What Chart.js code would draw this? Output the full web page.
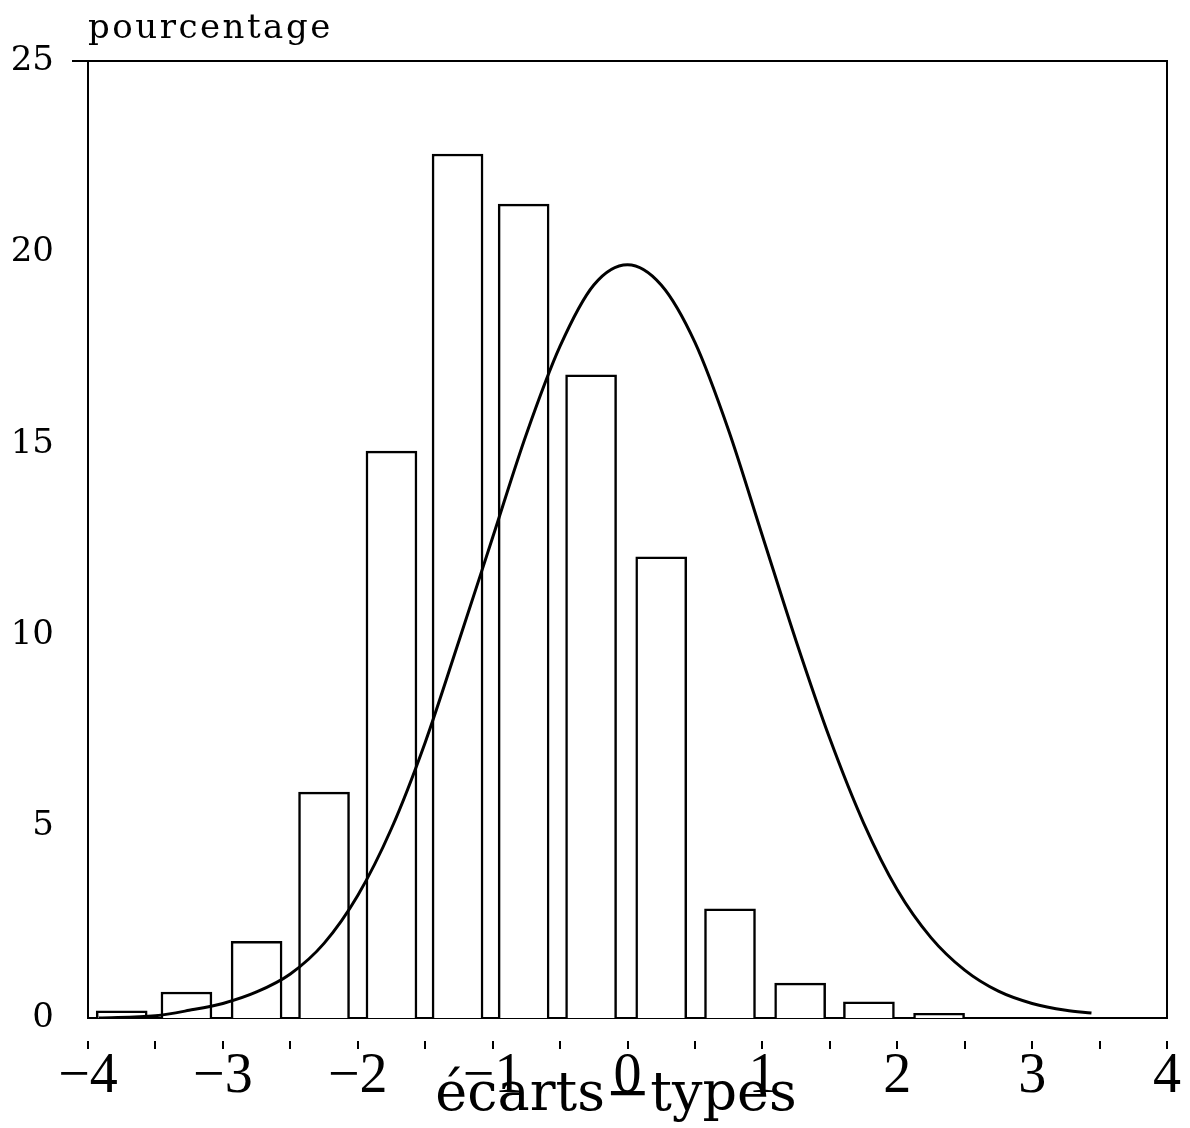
<!DOCTYPE html>
<html lang="fr">
<head>
  <meta charset="UTF-8">
  <title>Histogramme - écarts-types</title>
  <script src="https://cdn.jsdelivr.net/npm/chart.js@4.4.1/dist/chart.umd.min.js"></script>
  <style>
    body {
      margin: 0;
      padding: 0;
      background-color: #ffffff;
    }
    canvas {
      display: block;
    }
  </style>
</head>
<body>
  <canvas id="chart" width="1190" height="1128"></canvas>

  <script>
    // Histogramme : centres des classes (en écarts-types) et pourcentages
    const binCenters = [-3.75, -3.27, -2.75, -2.25, -1.75, -1.26, -0.77, -0.27, 0.25, 0.76, 1.28, 1.79, 2.31];
    const binPercents = [0.19, 0.68, 2.0, 5.9, 14.81, 22.57, 21.26, 16.8, 12.05, 2.85, 0.91, 0.42, 0.12];

    // Courbe normale
    const curveX = [-3.92, -3.5, -3.25, -3, -2.75, -2.5, -2.25, -2, -1.75, -1.5, -1.25, -1, -0.75, -0.5, -0.25,
                    0, 0.25, 0.5, 0.75, 1, 1.25, 1.5, 1.75, 2, 2.25, 2.5, 2.75, 3, 3.25, 3.44];
    const curveY = [0.0, 0.06, 0.2, 0.38, 0.68, 1.15, 1.95, 3.2, 4.95, 7.2, 9.85, 12.55, 15.25, 17.55, 19.15,
                    19.68, 19.15, 17.65, 15.35, 12.6, 9.85, 7.3, 5.1, 3.35, 2.1, 1.25, 0.7, 0.38, 0.2, 0.13];

    // Graduations
    const xMin = -4, xMax = 4, xStep = 0.5;
    const yMin = 0, yMax = 25, yStep = 5;

    const yTitle = 'pourcentage';
    const xTitle = 'écarts\u2212types';

    // cadre + textes des axes
    const framePlugin = {
      id: 'frame',
      afterDraw(chart) {
        const ctx = chart.ctx;
        const a = chart.chartArea;
        ctx.save();
        ctx.strokeStyle = '#000';
        ctx.lineWidth = 2;
        ctx.beginPath();
        ctx.moveTo(a.left - 16, a.top);
        ctx.lineTo(a.right, a.top);
        ctx.lineTo(a.right, a.bottom);
        ctx.stroke();

        ctx.fillStyle = '#000';
        ctx.font = '34px "DejaVu Serif"';
        ctx.letterSpacing = '2.5px';
        ctx.textAlign = 'left';
        ctx.textBaseline = 'alphabetic';
        ctx.fillText(yTitle, a.left, 38);

        ctx.letterSpacing = '0px';
        ctx.font = '54px "DejaVu Serif"';
        ctx.textAlign = 'center';
        ctx.fillText(xTitle, 616, 1110);
        ctx.restore();
      }
    };

    const ctx = document.getElementById('chart').getContext('2d');
    const chart = new Chart(ctx, {
      type: 'bar',
      data: {
        datasets: [{
          type: 'line',
          data: curveX.map((x, i) => ({ x: x, y: curveY[i] })),
          borderColor: '#000000',
          borderWidth: 3,
          pointRadius: 0,
          fill: false,
          cubicInterpolationMode: 'monotone',
          order: 0
        }, {
          type: 'bar',
          data: binCenters.map((x, i) => ({ x: x, y: binPercents[i] })),
          backgroundColor: '#ffffff',
          borderColor: '#000000',
          borderWidth: 2.5,
          barThickness: 51,
          order: 1
        }]
      },
      options: {
        responsive: false,
        animation: false,
        layout: { padding: { top: 61, right: 23 } },
        plugins: {
          legend: { display: false },
          tooltip: { enabled: false }
        },
        scales: {
          x: {
            type: 'linear',
            min: xMin,
            max: xMax,
            offset: false,
            afterFit: (s) => { s.height = 110; },
            border: { display: true, color: '#000', width: 2 },
            grid: {
              offset: false,
              drawOnChartArea: false,
              color: '#000',
              lineWidth: 2,
              tickLength: 31,
              tickBorderDash: [0, 22, 9, 100]
            },
            ticks: {
              stepSize: xStep,
              autoSkip: false,
              maxRotation: 0,
              padding: -5,
              color: '#000',
              font: { family: 'Liberation Serif', size: 56 },
              callback: (v) => Number.isInteger(v) ? (v < 0 ? '\u2212' + (-v) : String(v)) : ''
            }
          },
          y: {
            min: yMin,
            max: yMax,
            afterFit: (s) => { s.width = 88; },
            border: { display: true, color: '#000', width: 2 },
            grid: { display: false },
            ticks: {
              stepSize: yStep,
              padding: 26,
              color: '#000',
              font: { family: 'DejaVu Serif', size: 34 }
            }
          }
        }
      },
      plugins: [framePlugin]
    });
  </script>
</body>
</html>
